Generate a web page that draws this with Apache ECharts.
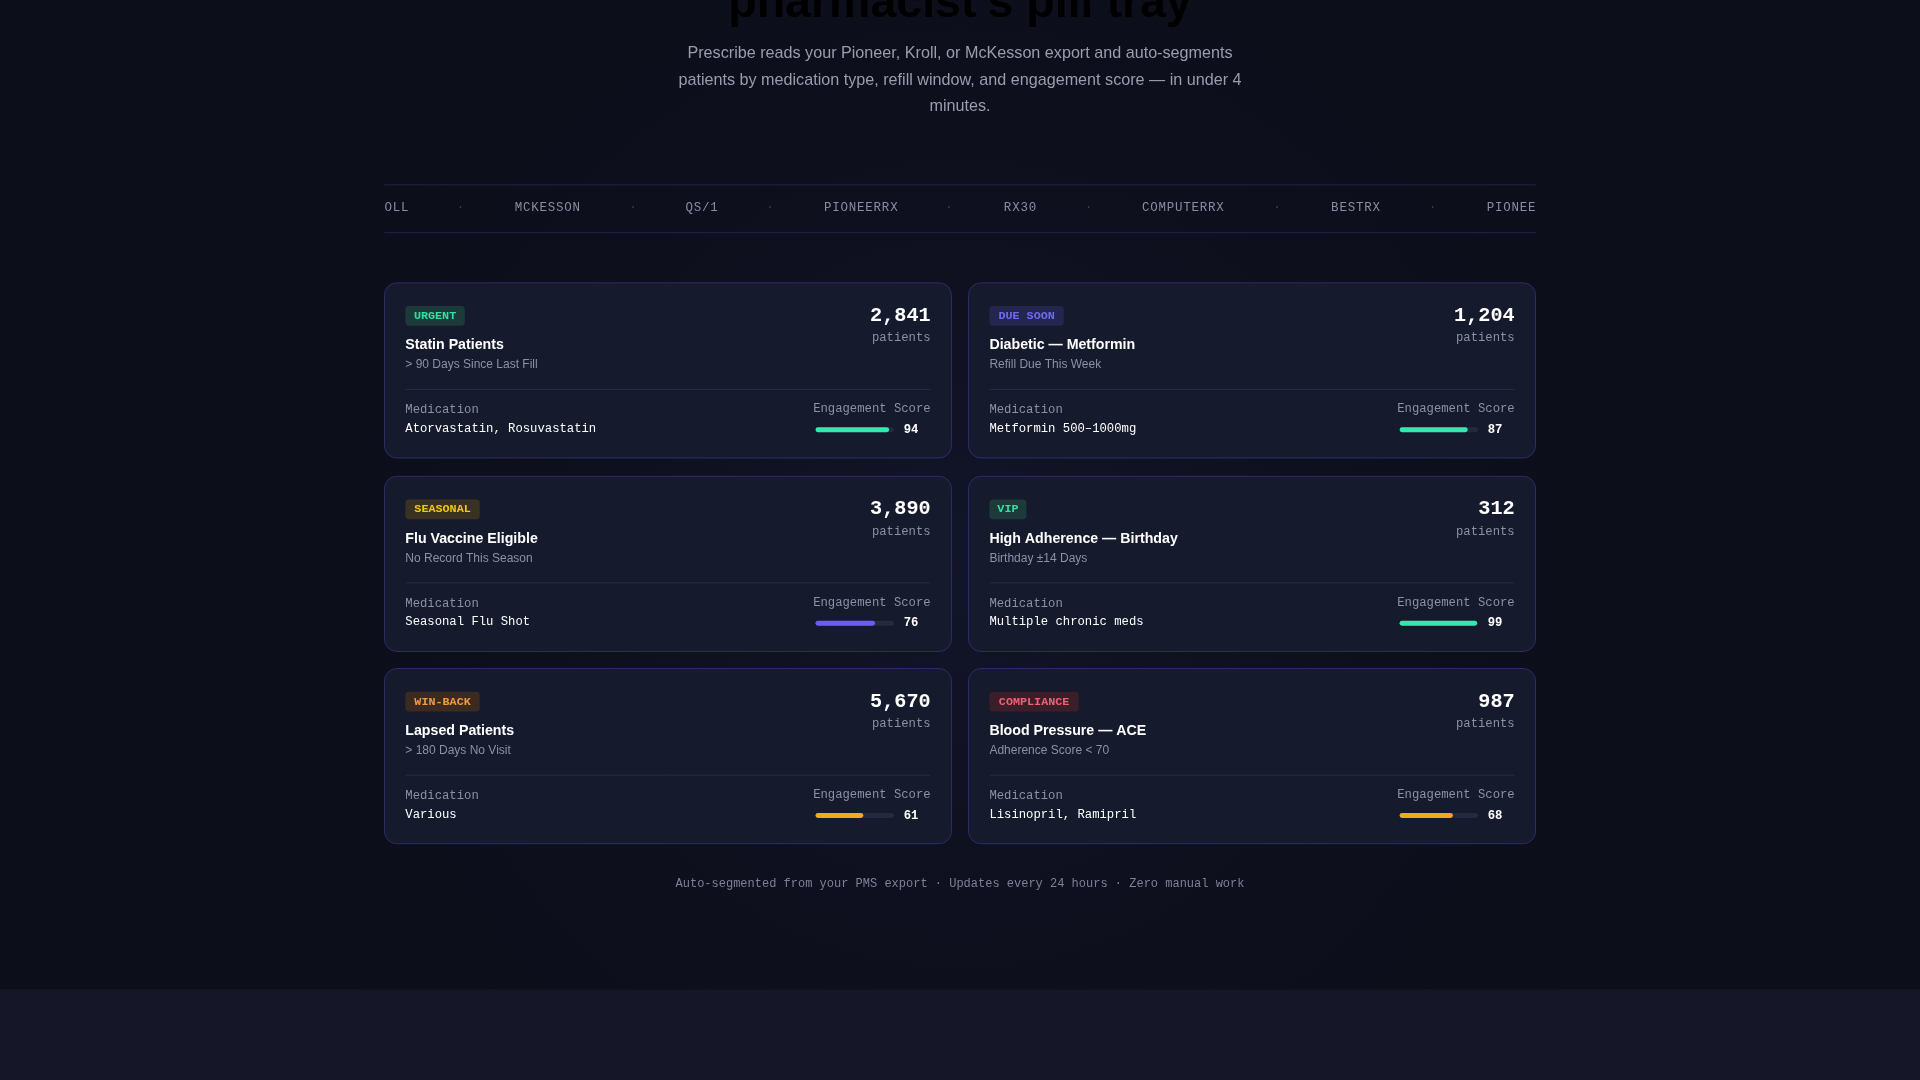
<!DOCTYPE html>
<html><head><meta charset="utf-8">
<script src="https://cdn.jsdelivr.net/npm/echarts@6/dist/echarts.min.js"></script>
<style>html,body{margin:0;padding:0;background:#0c0e1a}#c{width:1920px;height:1080px}</style>
</head><body><div id="c"></div>
<script>
const tickerItems = ['OLL','MCKESSON','QS/1','PIONEERRX','RX30','COMPUTERRX','BESTRX','PIONEE'];
const badges = ['URGENT','DUE SOON','SEASONAL','VIP','WIN-BACK','COMPLIANCE'];
const segTitles = ['Statin Patients','Diabetic — Metformin','Flu Vaccine Eligible','High Adherence — Birthday','Lapsed Patients','Blood Pressure — ACE'];
const segSubs = ['> 90 Days Since Last Fill','Refill Due This Week','No Record This Season','Birthday ±14 Days','> 180 Days No Visit','Adherence Score < 70'];
const patientCounts = [2841,1204,3890,312,5670,987];
const medications = ['Atorvastatin, Rosuvastatin','Metformin 500–1000mg','Seasonal Flu Shot','Multiple chronic meds','Various','Lisinopril, Ramipril'];
const engagementScores = [94,87,76,99,61,68];

const s = 1920/1568;
const SANS = '"Liberation Sans", Arial, sans-serif';
const MONO = '"Liberation Mono", "DejaVu Sans Mono", monospace';
const badgeStyle = {
  'URGENT':['#1c3a3a','#34e0a1'], 'DUE SOON':['#24264f','#6d6af5'], 'SEASONAL':['#3a3220','#f5c518'],
  'VIP':['#1c3a3a','#34e0a1'], 'WIN-BACK':['#3a2a22','#f59a3c'], 'COMPLIANCE':['#3a1e28','#f0607a']
};
const barColor = v => v >= 85 ? '#34e8b0' : (v >= 70 ? '#6b5cf6' : '#f5a623');

const g = [];
const T = (x,y,text,o) => g.push({type:'text',x:x*s,y:y*s,silent:true,style:Object.assign({text,fill:'#fff',font:`${12*s}px ${SANS}`,align:'left',verticalAlign:'middle'},o||{})});
const R = (x,y,w,h,o,r) => g.push({type:'rect',silent:true,shape:{x:x*s,y:y*s,width:w*s,height:h*s,r:(r||0)*s},style:o});
const L = (x1,y1,x2,y2,c) => g.push({type:'line',silent:true,shape:{x1:x1*s,y1:y1*s,x2:x2*s,y2:y2*s},style:{stroke:c,lineWidth:1}});

g.push({type:'circle',silent:true,shape:{cx:784*s,cy:460*s,r:620*s},style:{fill:new echarts.graphic.RadialGradient(0.5,0.5,0.5,[{offset:0,color:'rgba(40,40,90,0.25)'},{offset:1,color:'rgba(12,14,26,0)'}])}});
R(0,808,1568,80,{fill:'#151729'});

// title with gradient in global pixel coords
T(784,23,"pharmacist's pill tray",{font:`bold ${38*s}px ${SANS}`,align:'center',verticalAlign:'bottom',
  fill:new echarts.graphic.LinearGradient(600*s,0,970*s,0,[{offset:0,color:'#5b5cf2'},{offset:1,color:'#3ee6bd'}],true)});
['Prescribe reads your Pioneer, Kroll, or McKesson export and auto-segments',
 'patients by medication type, refill window, and engagement score — in under 4',
 'minutes.'].forEach((t,i)=>T(784,44+i*21.5,t,{fill:'#9a9cb0',font:`${13.2*s}px ${SANS}`,align:'center'}));

L(314,151,1254,151,'#23244a'); L(314,190,1254,190,'#23244a');
const tx = [[314,'left'],[447,'center'],[573,'center'],[703,'center'],[833,'center'],[966,'center'],[1107,'center'],[1254,'right']];
tickerItems.forEach((t,i)=>T(tx[i][0],170,t.split('').join('\u200a'),{fill:'#8a8ca4',font:`${10.2*s}px ${MONO}`,align:tx[i][1]}));
[376,517,629,775,889,1043,1170].forEach(x=>T(x,170,'·',{fill:'#3a3c58',font:`${10*s}px ${MONO}`,align:'center'}));

const grids=[], xAxes=[], yAxes=[], series=[];
badges.forEach((b,i)=>{
  const cx = i%2===0 ? 314 : 791, cy = [231,389,546][Math.floor(i/2)];
  R(cx,cy,463,143,{fill:'#161a2d',stroke:'#2e2c6a',lineWidth:1},10);
  const bw = b.length*6.1+12;
  R(cx+17,cy+19,bw,16,{fill:badgeStyle[b][0]},3);
  T(cx+17+bw/2,cy+27,b,{fill:badgeStyle[b][1],font:`bold ${9.6*s}px ${MONO}`,align:'center'});
  T(cx+17,cy+51,segTitles[i],{font:`bold ${11.6*s}px ${SANS}`});
  T(cx+17,cy+67,segSubs[i],{fill:'#8e90a6',font:`${9.8*s}px ${SANS}`});
  T(cx+446,cy+27,patientCounts[i].toLocaleString('en-US'),{font:`bold ${16.5*s}px ${MONO}`,align:'right'});
  T(cx+446,cy+45,'patients',{fill:'#8e90a6',font:`${10*s}px ${MONO}`,align:'right'});
  L(cx+17,cy+87,cx+446,cy+87,'#2a2c48');
  T(cx+17,cy+104,'Medication',{fill:'#8e90a6',font:`${10*s}px ${MONO}`});
  T(cx+17,cy+119,medications[i],{fill:'#ffffff',font:`${10*s}px ${MONO}`});
  T(cx+446,cy+103,'Engagement Score',{fill:'#8e90a6',font:`${10*s}px ${MONO}`,align:'right'});
  T(cx+436,cy+120,String(engagementScores[i]),{font:`bold ${10*s}px ${MONO}`,align:'right'});
  grids.push({left:(cx+352)*s,top:(cy+118)*s,width:64*s,height:4*s});
  xAxes.push({type:'value',gridIndex:i,min:0,max:100,show:false});
  yAxes.push({type:'category',gridIndex:i,data:['s'],show:false});
  series.push({type:'bar',xAxisIndex:i,yAxisIndex:i,data:[engagementScores[i]],barWidth:'100%',silent:true,
    itemStyle:{color:barColor(engagementScores[i]),borderRadius:2*s},
    showBackground:true,backgroundStyle:{color:'#262840',borderRadius:2*s}});
});

T(784,722,'Auto-segmented from your PMS export · Updates every 24 hours · Zero manual work',{fill:'#7e8098',font:`${9.8*s}px ${MONO}`,align:'center'});

const chart = echarts.init(document.getElementById('c'));
chart.setOption({backgroundColor:'#0c0e1a',animation:false,grid:grids,xAxis:xAxes,yAxis:yAxes,series,graphic:{elements:g}});
</script></body></html>
